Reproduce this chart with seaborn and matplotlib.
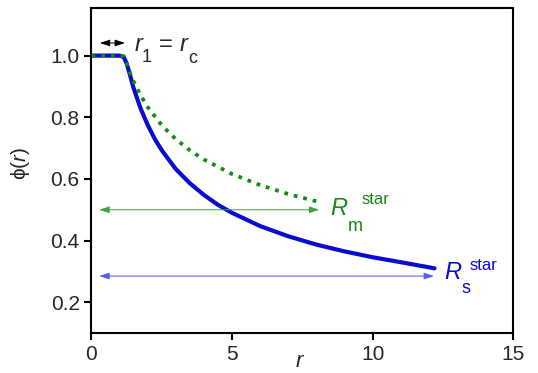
import pandas as pd
import seaborn as sns
import matplotlib.pyplot as plt

# values
r_s = [0, 0.5, 1.0, 1.15, 1.25, 1.35, 1.5, 1.75, 2.0, 2.25, 2.5, 3.0, 3.5, 4.0, 4.5, 5.0, 6.0, 7.0, 8.0, 9.0, 10.0, 11.0, 12.2]
phi_s = [1.0, 1.0, 1.0, 0.995, 0.975, 0.944, 0.894, 0.828, 0.775, 0.730, 0.693, 0.632, 0.586, 0.548, 0.516, 0.490, 0.447, 0.414, 0.387, 0.365, 0.346, 0.330, 0.310]

r_m = [0, 0.5, 1.0, 1.15, 1.3, 1.5, 1.75, 2.0, 2.5, 3.0, 3.5, 4.0, 5.0, 6.0, 7.0, 8.06]
phi_m = [1.0, 1.0, 1.0, 0.998, 0.960, 0.916, 0.871, 0.833, 0.774, 0.729, 0.693, 0.663, 0.616, 0.580, 0.551, 0.526]

blue = "#0a0ad2"
green = "#138a13"

df_s = pd.DataFrame({"r": r_s, "phi": phi_s})
df_m = pd.DataFrame({"r": r_m, "phi": phi_m})

sns.set_style("ticks")
plt.rcParams["font.family"] = ["Liberation Sans", "DejaVu Sans"]
plt.rcParams["mathtext.fontset"] = "custom"
plt.rcParams["mathtext.rm"] = "Liberation Sans"
plt.rcParams["mathtext.it"] = "Liberation Sans:italic"

fig = plt.figure(figsize=(5.38, 3.73), dpi=100)
ax = fig.add_axes([0.170, 0.107, 0.784, 0.872])

sns.lineplot(data=df_s, x="r", y="phi", ax=ax, color=blue, lw=3.0,
             sort=False, estimator=None)
sns.lineplot(data=df_m, x="r", y="phi", ax=ax, color=green, lw=2.7,
             sort=False, estimator=None, linestyle=(0, (1.0, 1.6)))
ax.lines[1].set_dash_capstyle("butt")

# range arrows
head = "<|-|>,head_length=0.6,head_width=0.2"
ax.annotate("", xy=(8.2, 0.5), xytext=(0.18, 0.5),
            arrowprops=dict(arrowstyle=head, color="#3ea33e", lw=0.7))
ax.annotate("", xy=(12.28, 0.285), xytext=(0.18, 0.285),
            arrowprops=dict(arrowstyle=head, color="#5a5af0", lw=0.7))
ax.annotate("", xy=(1.29, 1.041), xytext=(0.2, 1.041),
            arrowprops=dict(arrowstyle=head, color="black", lw=0.7))

# labels
ax.text(1.5, 1.036, "$r$", fontsize=17, ha="left", va="center")
ax.text(1.8, 0.993, "1", fontsize=13, ha="left", va="center")
ax.text(2.4, 1.036, "=", fontsize=17, ha="left", va="center")
ax.text(3.1, 1.036, "$r$", fontsize=17, ha="left", va="center")
ax.text(3.45, 0.99, "c", fontsize=13, ha="left", va="center")

ax.text(8.5, 0.504, "$R$", fontsize=17, color=green, ha="left", va="center")
ax.text(9.1, 0.445, "m", fontsize=13, color=green, ha="left", va="center")
ax.text(9.6, 0.532, "star", fontsize=12, color=green, ha="left", va="center")

ax.text(12.52, 0.296, "$R$", fontsize=17, color=blue, ha="left", va="center")
ax.text(13.15, 0.246, "s", fontsize=13, color=blue, ha="left", va="center")
ax.text(13.45, 0.319, "star", fontsize=12, color=blue, ha="left", va="center")

ax.set_xlim(0, 15)
ax.set_ylim(0.1, 1.155)
ax.set_xticks([0, 5, 10, 15])
ax.set_yticks([0.2, 0.4, 0.6, 0.8, 1.0])
ax.set_yticklabels(["0.2", "0.4", "0.6", "0.8", "1.0"])
ax.set_xlabel("$r$", fontsize=16)
ax.set_ylabel("ϕ($r$)", fontsize=15)
ax.xaxis.set_label_coords(0.495, -0.055)
ax.yaxis.set_label_coords(-0.14, 0.523)
ax.tick_params(labelsize=15, width=1.5, length=5, color="black")
for sp in ax.spines.values():
    sp.set_visible(True)
    sp.set_linewidth(1.5)
    sp.set_color("black")

fig.savefig("out.png", dpi=100)
